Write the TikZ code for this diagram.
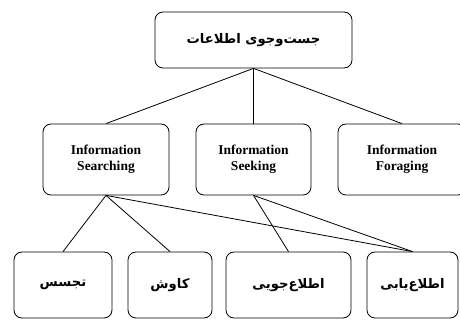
\documentclass[tikz,border=0pt]{standalone}
\usepackage{fontspec}
\setmainfont{Liberation Serif}
\newfontfamily\persianfont[Script=Arabic]{DejaVu Sans}
\TeXXeTstate=1
\usepackage{xcolor}
\usepackage{tikz}

\begin{document}
\begin{tikzpicture}[x=1pt, y=-1pt,
    box/.style={draw, rectangle, rounded corners=8pt, line width=0.8pt, align=center, inner sep=0pt},
    entext/.style={font=\fontsize{13.5}{16}\selectfont\bfseries},
    fatext/.style={font=\fontsize{13.2}{15}\selectfont\persianfont\bfseries},
    link/.style={line width=0.8pt}]
    \clip (0,0) rectangle (460,320);
    % Nodes
    \node (top) [box, fatext, minimum width=197pt, minimum height=56pt] at (253.5,40) {\beginR جست‌وجوی اطلاعات\endR};
    \node (searching) [box, entext, minimum width=126pt, minimum height=71pt] at (106,159.5) {Information\\Searching};
    \node (seeking) [box, entext, minimum width=115pt, minimum height=71pt] at (253.5,159.5) {Information\\Seeking};
    \node (foraging) [box, entext, minimum width=128pt, minimum height=71pt] at (402,159.5) {Information\\Foraging};
    \node (tajassos) [box, fatext, minimum width=98pt, minimum height=66pt] at (63,285) {\beginR تجسس\endR};
    \node (kavosh) [box, fatext, minimum width=84pt, minimum height=66pt] at (170,285) {\beginR کاوش\endR};
    \node (jouyi) [box, fatext, minimum width=125pt, minimum height=66pt] at (288.5,285) {\beginR اطلاع‌جویی\endR};
    \node (yabi) [box, fatext, minimum width=91pt, minimum height=66pt] at (412.5,285) {\beginR اطلاع‌یابی\endR};

    % Lines
    \draw[link] (top.south) -- (searching.north);
    \draw[link] (top.south) -- (seeking.north);
    \draw[link] (top.south) -- (foraging.north);
    \draw[link] (searching.south) -- (tajassos.north);
    \draw[link] (searching.south) -- (kavosh.north);
    \draw[link] (searching.south) -- (yabi.north);
    \draw[link] (seeking.south) -- (jouyi.north);
    \draw[link] (seeking.south) -- (yabi.north);
\end{tikzpicture}
\end{document}
